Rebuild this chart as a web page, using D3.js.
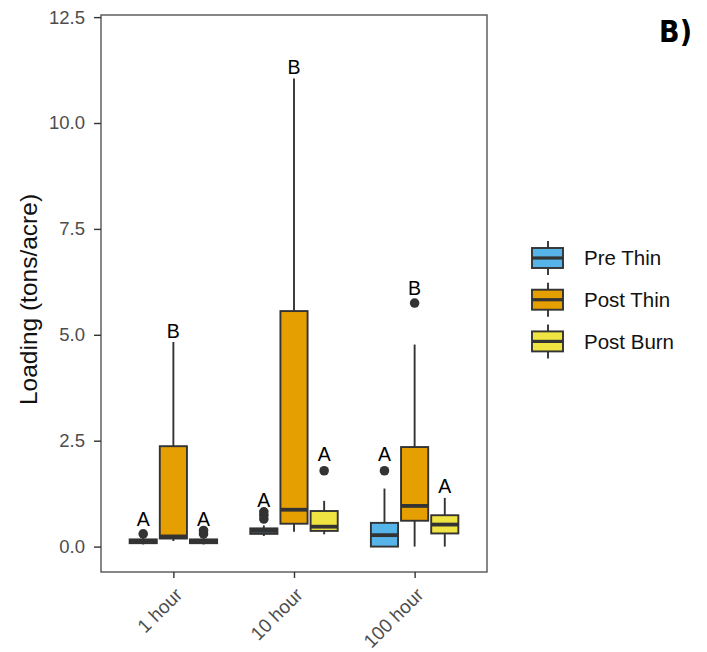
<!DOCTYPE html>
<html>
<head>
<meta charset="utf-8">
<script src="https://cdn.jsdelivr.net/npm/d3@7"></script>
<style>
  html, body { margin: 0; padding: 0; background: #fff; }
  svg { display: block; font-family: "Liberation Sans", Arial, sans-serif; }
</style>
</head>
<body>
<svg id="chart" width="707" height="652"></svg>
<script>
// Fuel size classes and treatments
const sizeClasses = ["1 hour", "10 hour", "100 hour"];
const treatments = ["Pre Thin", "Post Thin", "Post Burn"];
const treatmentColors = ["#56B4E9", "#E69F00", "#F0E442"];

// Box summaries per size class, ordered Pre Thin / Post Thin / Post Burn (tons/acre)
const whiskerLow  = [[0.05, 0.13, 0.05], [0.25, 0.35, 0.29], [0.00, 0.00, 0.00]];
const quartile1   = [[0.08, 0.19, 0.08], [0.30, 0.54, 0.37], [0.00, 0.61, 0.31]];
const medians     = [[0.13, 0.24, 0.13], [0.37, 0.87, 0.47], [0.27, 0.96, 0.52]];
const quartile3   = [[0.17, 2.37, 0.17], [0.43, 5.56, 0.84], [0.56, 2.35, 0.74]];
const whiskerHigh = [[0.20, 4.83, 0.20], [0.50, 11.05, 1.08], [1.37, 4.77, 1.15]];
const outliers    = [[[0.30], [], [0.30, 0.38]],
                     [[0.65, 0.74, 0.82], [], [1.79]],
                     [[1.79], [5.75], []]];

// Significance letters and their heights
const groupLetters = [["A", "B", "A"], ["A", "B", "A"], ["A", "B", "A"]];
const letterHeights = [[0.65, 5.10, 0.65], [1.09, 11.32, 2.18], [2.18, 6.10, 1.42]];

// Axis settings
const yTicks = [0, 2.5, 5, 7.5, 10, 12.5];
const yTitle = "Loading (tons/acre)";
const panelTag = "B)";

const svg = d3.select("#chart");
const panel = { left: 101, right: 487, top: 15, bottom: 572 };

const x = d3.scalePoint().domain(sizeClasses).range([panel.left, panel.right]).padding(0.6);
const y = d3.scaleLinear().domain([-0.6, 12.55]).range([panel.bottom, panel.top]);
const color = d3.scaleOrdinal().domain(treatments).range(treatmentColors);

const step = x.step();
const dodge = 0.25 * step;
const boxW = 0.225 * step;
const ink = "#333333";
const lw = 1.9;

// Flatten into one record per box
const boxes = [];
sizeClasses.forEach((c, i) => {
  treatments.forEach((t, j) => {
    boxes.push({
      cls: c, trt: t, j,
      lo: whiskerLow[i][j], q1: quartile1[i][j], med: medians[i][j],
      q3: quartile3[i][j], hi: whiskerHigh[i][j], out: outliers[i][j],
      letter: groupLetters[i][j], letterY: letterHeights[i][j]
    });
  });
});
const cx = d => x(d.cls) + (d.j - 1) * dodge;

// Panel border
svg.append("rect")
  .attr("x", panel.left).attr("y", panel.top)
  .attr("width", panel.right - panel.left).attr("height", panel.bottom - panel.top)
  .attr("fill", "none").attr("stroke", "#555").attr("stroke-width", 1.4);

// Y axis
const yAxis = svg.append("g")
  .attr("transform", `translate(${panel.left},0)`)
  .call(d3.axisLeft(y).tickValues(yTicks).tickFormat(d3.format(".1f")).tickSize(7).tickPadding(9));
yAxis.select(".domain").remove();
yAxis.selectAll(".tick line").attr("stroke", "#333").attr("stroke-width", 1.4);
yAxis.selectAll(".tick text").attr("fill", "#4d4d4d").attr("font-size", 18.5)
  .attr("font-family", "'Liberation Sans', Arial, sans-serif");

// X axis
const xAxis = svg.append("g")
  .attr("transform", `translate(0,${panel.bottom})`)
  .call(d3.axisBottom(x).tickSize(6).tickFormat(""));
xAxis.select(".domain").remove();
xAxis.selectAll(".tick line").attr("stroke", "#333").attr("stroke-width", 1.4);
svg.append("g").selectAll("text").data(sizeClasses).join("text")
  .attr("transform", d => `translate(${x(d) + 10},${panel.bottom + 24}) rotate(-45)`)
  .attr("text-anchor", "end")
  .attr("fill", "#4d4d4d").attr("font-size", 19)
  .text(d => d);

// Y axis title
svg.append("text")
  .attr("transform", `translate(37,${(panel.top + panel.bottom) / 2 + 6}) rotate(-90)`)
  .attr("text-anchor", "middle")
  .attr("font-size", 24.5).attr("fill", "#111")
  .text(yTitle);

const g = svg.append("g");

// Whiskers
g.selectAll("line.whisker").data(boxes).join("line")
  .attr("class", "whisker")
  .attr("x1", cx).attr("x2", cx)
  .attr("y1", d => y(d.lo)).attr("y2", d => y(d.hi))
  .attr("stroke", ink).attr("stroke-width", lw);

// Boxes
g.selectAll("rect.box").data(boxes).join("rect")
  .attr("class", "box")
  .attr("x", d => cx(d) - boxW / 2).attr("width", boxW)
  .attr("y", d => y(d.q3)).attr("height", d => y(d.q1) - y(d.q3))
  .attr("fill", d => color(d.trt))
  .attr("stroke", ink).attr("stroke-width", lw);

// Medians
g.selectAll("line.median").data(boxes).join("line")
  .attr("class", "median")
  .attr("x1", d => cx(d) - boxW / 2).attr("x2", d => cx(d) + boxW / 2)
  .attr("y1", d => y(d.med)).attr("y2", d => y(d.med))
  .attr("stroke", ink).attr("stroke-width", 3.8);

// Outliers
g.selectAll("circle.outlier")
  .data(boxes.flatMap(d => d.out.map(v => ({ x: cx(d), v }))))
  .join("circle")
  .attr("class", "outlier")
  .attr("cx", d => d.x).attr("cy", d => y(d.v)).attr("r", 4.8)
  .attr("fill", ink);

// Significance letters
g.selectAll("text.letter").data(boxes).join("text")
  .attr("class", "letter")
  .attr("x", cx).attr("y", d => y(d.letterY))
  .attr("dy", "0.36em")
  .attr("text-anchor", "middle")
  .attr("font-size", 19.5).attr("fill", "#000")
  .text(d => d.letter);

// Legend
const legend = svg.append("g").attr("transform", "translate(532,258)");
const item = legend.selectAll("g").data(treatments).join("g")
  .attr("transform", (d, i) => `translate(0,${i * 41.7})`);
item.append("line")
  .attr("x1", 16).attr("x2", 16).attr("y1", -17).attr("y2", 17)
  .attr("stroke", ink).attr("stroke-width", lw);
item.append("rect")
  .attr("x", 0).attr("y", -10).attr("width", 31).attr("height", 20)
  .attr("fill", d => color(d)).attr("stroke", ink).attr("stroke-width", lw);
item.append("line")
  .attr("x1", 0).attr("x2", 31).attr("y1", 0).attr("y2", 0)
  .attr("stroke", ink).attr("stroke-width", 3.2);
item.append("text")
  .attr("x", 52).attr("y", 0).attr("dy", "0.36em")
  .attr("font-size", 20.5).attr("fill", "#111")
  .text(d => d);

// Panel tag
svg.append("text")
  .attr("x", 692).attr("y", 42)
  .attr("text-anchor", "end")
  .attr("font-family", "'Liberation Sans Narrow', 'DejaVu Sans Condensed', sans-serif")
  .attr("font-weight", "bold").attr("font-size", 30).attr("fill", "#000")
  .text(panelTag);
</script>
</body>
</html>
